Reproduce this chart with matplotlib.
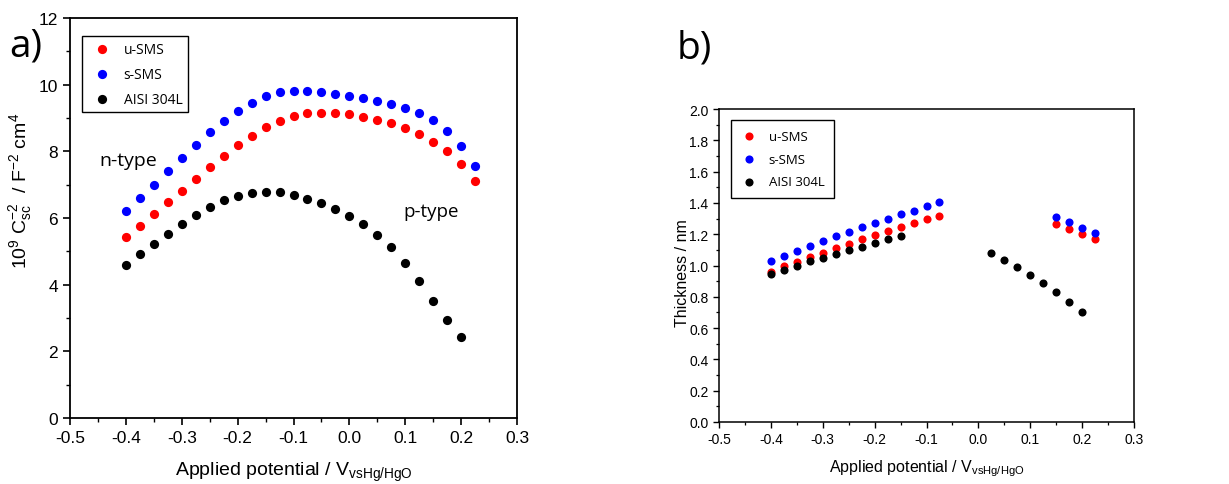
import matplotlib
matplotlib.use("Agg")
import matplotlib.pyplot as plt
from matplotlib.ticker import MultipleLocator, FuncFormatter

plt.rcParams['font.family'] = ['Liberation Sans', 'DejaVu Sans']
plt.rcParams['mathtext.default'] = 'regular'

# ---- Panel a) data ----
pot_a = [-0.4, -0.375, -0.35, -0.325, -0.3, -0.275, -0.25, -0.225, -0.2, -0.175,
         -0.15, -0.125, -0.1, -0.075, -0.05, -0.025, 0.0, 0.025, 0.05, 0.075,
         0.1, 0.125, 0.15, 0.175, 0.2, 0.225]
usms_a = [5.42, 5.77, 6.12, 6.48, 6.82, 7.18, 7.52, 7.86, 8.18, 8.47,
          8.72, 8.91, 9.06, 9.14, 9.16, 9.15, 9.11, 9.04, 8.94, 8.84,
          8.69, 8.52, 8.29, 8.00, 7.61, 7.11]
ssms_a = [6.20, 6.60, 7.00, 7.41, 7.80, 8.19, 8.57, 8.91, 9.20, 9.45,
          9.65, 9.77, 9.82, 9.82, 9.78, 9.72, 9.66, 9.60, 9.51, 9.43,
          9.31, 9.16, 8.94, 8.60, 8.15, 7.55]
pot_a_aisi = pot_a[:-1]
aisi_a = [4.60, 4.92, 5.23, 5.53, 5.82, 6.09, 6.33, 6.53, 6.67, 6.76,
          6.79, 6.77, 6.69, 6.58, 6.44, 6.27, 6.06, 5.81, 5.50, 5.12,
          4.65, 4.10, 3.52, 2.95, 2.42]

# ---- Panel b) data ----
pot_b_sms = [-0.4, -0.375, -0.35, -0.325, -0.3, -0.275, -0.25, -0.225, -0.2, -0.175,
             -0.15, -0.125, -0.1, -0.075, 0.15, 0.175, 0.2, 0.225]
usms_b = [0.960, 0.994, 1.023, 1.053, 1.083, 1.113, 1.140, 1.168, 1.194, 1.221,
          1.247, 1.272, 1.296, 1.319, 1.262, 1.232, 1.200, 1.168]
ssms_b = [1.028, 1.062, 1.094, 1.126, 1.155, 1.187, 1.217, 1.245, 1.272, 1.300,
          1.326, 1.351, 1.379, 1.404, 1.311, 1.277, 1.240, 1.206]
pot_b_aisi = [-0.4, -0.375, -0.35, -0.325, -0.3, -0.275, -0.25, -0.225, -0.2, -0.175,
              -0.15, 0.025, 0.05, 0.075, 0.1, 0.125, 0.15, 0.175, 0.2]
aisi_b = [0.943, 0.970, 0.998, 1.026, 1.051, 1.074, 1.098, 1.121, 1.145, 1.168,
          1.191, 1.081, 1.036, 0.989, 0.938, 0.885, 0.830, 0.768, 0.702]

labels = ['u-SMS', 's-SMS', 'AISI 304L']
colors = ['#ff0000', '#0000ff', '#000000']

W, H = 1229, 485
fig = plt.figure(figsize=(W / 100, H / 100), dpi=100)

def box(l, t, r, b):
    return [l / W, 1 - b / H, (r - l) / W, (b - t) / H]

ax1 = fig.add_axes(box(70, 19, 517, 419))
ax2 = fig.add_axes(box(719, 110, 1134, 423))

fmt1 = FuncFormatter(lambda v, p: f"{v:.1f}")
fmt0 = FuncFormatter(lambda v, p: f"{v:.0f}")

# panel a
ax1.scatter(pot_a, usms_a, s=44, color=colors[0], label=labels[0], zorder=3, linewidths=0)
ax1.scatter(pot_a, ssms_a, s=44, color=colors[1], label=labels[1], zorder=3, linewidths=0)
ax1.scatter(pot_a_aisi, aisi_a, s=44, color=colors[2], label=labels[2], zorder=3, linewidths=0)
ax1.set_xlim(-0.5, 0.3)
ax1.set_ylim(0, 12)
ax1.xaxis.set_major_locator(MultipleLocator(0.1))
ax1.xaxis.set_minor_locator(MultipleLocator(0.05))
ax1.yaxis.set_major_locator(MultipleLocator(2))
ax1.yaxis.set_minor_locator(MultipleLocator(1))
ax1.xaxis.set_major_formatter(fmt1)
ax1.yaxis.set_major_formatter(fmt0)
ax1.tick_params(axis='both', which='major', direction='out', length=5, width=1.2, labelsize=12.5)
ax1.tick_params(axis='both', which='minor', direction='out', length=3, width=1.0)
for s in ax1.spines.values():
    s.set_linewidth(1.3)
ax1.set_xlabel(r'Applied potential / V$_{vsHg/HgO}$', fontsize=14, labelpad=11)
ax1.set_ylabel(r'10$^{9}$ C$_{sc}^{-2}$  / F$^{-2}$ cm$^{4}$', fontsize=14)
ax1.yaxis.set_label_coords(-0.08, 0.57)
ax1.text(-0.447, 7.75, 'n-type', fontsize=14, family='Open Sans', va='center', ha='left')
ax1.text(0.097, 6.2, 'p-type', fontsize=13.5, family='Open Sans', va='center', ha='left')
leg1 = ax1.legend(loc='upper left', bbox_to_anchor=(0.027, 0.955), borderaxespad=0,
                  frameon=True, fancybox=False,
                  edgecolor='black', framealpha=1, prop={'family': 'Open Sans', 'size': 10},
                  handletextpad=0.6, labelspacing=0.73, borderpad=0.4, handlelength=2.0,
                  scatterpoints=1)
leg1.get_frame().set_linewidth(1.0)

fig.text(9 / W, 1 - 47 / H, 'a)', fontsize=28, family='Open Sans', va='center', ha='left')
fig.text(677 / W, 1 - 48 / H, 'b)', fontsize=28, family='Open Sans', va='center', ha='left')

# panel b
ax2.scatter(pot_b_sms, usms_b, s=34, color=colors[0], label=labels[0], zorder=3, linewidths=0)
ax2.scatter(pot_b_sms, ssms_b, s=34, color=colors[1], label=labels[1], zorder=3, linewidths=0)
ax2.scatter(pot_b_aisi, aisi_b, s=34, color=colors[2], label=labels[2], zorder=3, linewidths=0)
ax2.set_xlim(-0.5, 0.3)
ax2.set_ylim(0, 2.0)
ax2.xaxis.set_major_locator(MultipleLocator(0.1))
ax2.xaxis.set_minor_locator(MultipleLocator(0.05))
ax2.yaxis.set_major_locator(MultipleLocator(0.2))
ax2.yaxis.set_minor_locator(MultipleLocator(0.1))
ax2.xaxis.set_major_formatter(fmt1)
ax2.yaxis.set_major_formatter(fmt1)
ax2.tick_params(axis='both', which='major', direction='out', length=4, width=1.0, labelsize=10)
ax2.tick_params(axis='both', which='minor', direction='out', length=2.5, width=0.9)
for s in ax2.spines.values():
    s.set_linewidth(1.1)
ax2.set_xlabel(r'Applied potential / V$_{vsHg/HgO}$', fontsize=11.5, labelpad=8)
ax2.set_ylabel('Thickness / nm', fontsize=11.5)
ax2.yaxis.set_label_coords(-0.07, 0.48)
leg2 = ax2.legend(loc='upper left', bbox_to_anchor=(0.029, 0.965), borderaxespad=0,
                  frameon=True, fancybox=False,
                  edgecolor='black', framealpha=1, prop={'family': 'Open Sans', 'size': 9.5},
                  handletextpad=0.9, labelspacing=0.74, borderpad=0.75, handlelength=1.2,
                  scatterpoints=1)
leg2.get_frame().set_linewidth(1.0)

fig.savefig('out.png', dpi=100)
